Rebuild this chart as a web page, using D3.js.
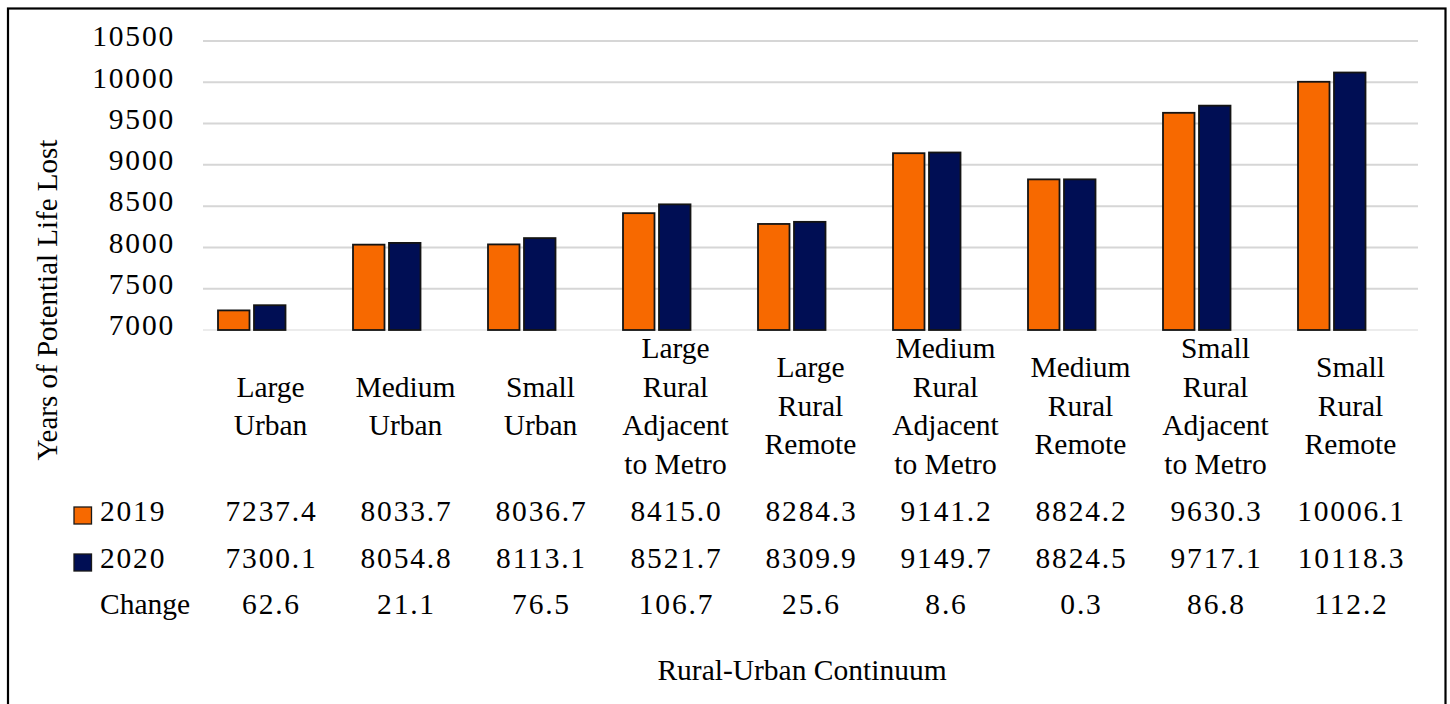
<!DOCTYPE html>
<html><head><meta charset="utf-8">
<script src="https://cdn.jsdelivr.net/npm/d3@7"></script>
<style>
html,body{margin:0;padding:0;background:#fff;}
svg text{font-family:"Liberation Serif","Times New Roman",serif;fill:#000;}
</style></head>
<body><svg id="c" width="1450" height="704"></svg>
<script>
const categories = [
  ["Large","Urban"],
  ["Medium","Urban"],
  ["Small","Urban"],
  ["Large","Rural","Adjacent","to Metro"],
  ["Large","Rural","Remote"],
  ["Medium","Rural","Adjacent","to Metro"],
  ["Medium","Rural","Remote"],
  ["Small","Rural","Adjacent","to Metro"],
  ["Small","Rural","Remote"]
];
const values2019 = [7237.4, 8033.7, 8036.7, 8415.0, 8284.3, 9141.2, 8824.2, 9630.3, 10006.1];
const values2020 = [7300.1, 8054.8, 8113.1, 8521.7, 8309.9, 9149.7, 8824.5, 9717.1, 10118.3];
const changes = [62.6, 21.1, 76.5, 106.7, 25.6, 8.6, 0.3, 86.8, 112.2];
const yTicks = [7000, 7500, 8000, 8500, 9000, 9500, 10000, 10500];
const seriesNames = ["2019", "2020"];
const colors = ["#F76900", "#000E54"];

const svg = d3.select("#c");
const FS = 29.5;

// border
svg.append("rect").attr("x",8).attr("y",8.5).attr("width",1437.5).attr("height",710)
  .attr("fill","none").attr("stroke","#000").attr("stroke-width",2.2);

const x = d3.scaleBand().domain(d3.range(categories.length)).range([203,1418]);
const y = d3.scaleLinear().domain([7000,10500]).range([330,41]);

// gridlines
svg.append("g").selectAll("line").data(yTicks).join("line")
  .attr("x1",203).attr("x2",1418)
  .attr("y1",d=>y(d)).attr("y2",d=>y(d))
  .attr("stroke",d=>d===7000?"#ececec":"#d6d6d6").attr("stroke-width",2);

// y tick labels
svg.append("g").selectAll("text").data(yTicks).join("text")
  .attr("x",175).attr("y",d=>y(d)-1.5)
  .attr("text-anchor","end").attr("dominant-baseline","middle")
  .style("font-size",FS+"px").style("letter-spacing","1.8px")
  .text(d=>d);

// bars
const series = [values2019, values2020];
const offsets = [15, 51];
const barW = 31.5;
series.forEach((vals, si) => {
  svg.append("g").selectAll("rect").data(vals).join("rect")
    .attr("x",(d,i)=>x(i)+offsets[si])
    .attr("y",d=>y(d))
    .attr("width",barW)
    .attr("height",d=>y(7000)-y(d))
    .attr("fill",colors[si]).attr("stroke","#141414").attr("stroke-width",1.8);
});

// category labels
const lineH = 38.5;
categories.forEach((lines, i) => {
  const cx = x(i) + x.bandwidth()/2;
  const startY = 409 - (lines.length-1)*lineH/2;
  const t = svg.append("text").attr("text-anchor","middle").style("font-size",FS+"px");
  lines.forEach((ln, j) => {
    t.append("tspan").attr("x",cx).attr("y",startY + j*lineH).attr("dominant-baseline","middle").text(ln);
  });
});

// data table
const rowsY = [514, 561, 607];
const rows = [values2019.map(v=>v.toFixed(1)), values2020.map(v=>v.toFixed(1)), changes.map(v=>v.toFixed(1))];
rows.forEach((r, ri) => {
  svg.append("g").selectAll("text").data(r).join("text")
    .attr("x",(d,i)=>x(i)+x.bandwidth()/2+1)
    .attr("y",rowsY[ri]).attr("text-anchor","middle").attr("dominant-baseline","middle")
    .style("font-size",FS+"px").style("letter-spacing","1.8px")
    .text(d=>d);
});
// row headers
seriesNames.forEach((n, si) => {
  svg.append("rect").attr("x",74).attr("y",rowsY[si]-7).attr("width",17.5).attr("height",17)
    .attr("fill",colors[si]).attr("stroke","#1a1a1a").attr("stroke-width",1.3);
  svg.append("text").attr("x",100).attr("y",rowsY[si]).attr("dominant-baseline","middle")
    .style("font-size",FS+"px").style("letter-spacing","1.8px").text(n);
});
svg.append("text").attr("x",100).attr("y",rowsY[2]).attr("dominant-baseline","middle")
  .style("font-size",FS+"px").text("Change");

// axis titles
svg.append("text").attr("transform","translate(50,300) rotate(-90)")
  .attr("text-anchor","middle").attr("dominant-baseline","middle")
  .style("font-size","29px").text("Years of Potential Life Lost");
svg.append("text").attr("x",802).attr("y",673)
  .attr("text-anchor","middle").attr("dominant-baseline","middle")
  .style("font-size",FS+"px").text("Rural-Urban Continuum");
</script></body></html>
